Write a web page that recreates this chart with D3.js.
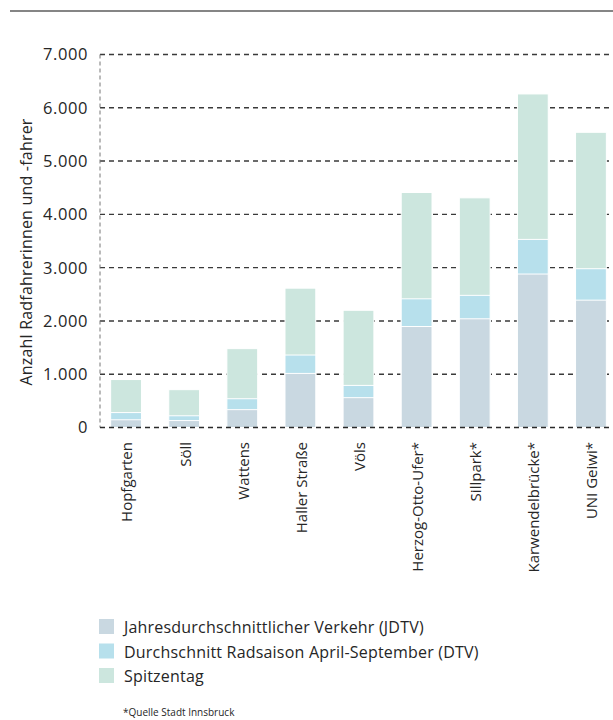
<!DOCTYPE html>
<html>
<head>
<meta charset="utf-8">
<script src="https://cdn.jsdelivr.net/npm/d3@7"></script>
<style>
  body { margin: 0; background: #fff; }
  text { font-family: "Open Sans", sans-serif; font-weight: 400; fill: #262626; }
</style>
</head>
<body>
<div id="chart"></div>
<script>
// Zählstellen
const categories = ["Hopfgarten", "Söll", "Wattens", "Haller Straße", "Völs",
  "Herzog-Otto-Ufer*", "Sillpark*", "Karwendelbrücke*", "UNI Geiwi*"]

// Werte je Serie (Radfahrer pro Tag)
const jdtv = [145, 130, 335, 1015, 560, 1895, 2040, 2880, 2390]
const dtv = [280, 220, 540, 1360, 790, 2415, 2480, 3530, 2980]
const spitzentag = [900, 710, 1480, 2615, 2200, 4410, 4310, 6260, 5540]

const seriesNames = ["Jahresdurchschnittlicher Verkehr (JDTV)",
  "Durchschnitt Radsaison April-September (DTV)", "Spitzentag"]
const seriesColors = ["#c9d8e1", "#b7e0ec", "#cce6de"]
const yTicks = [0, 1000, 2000, 3000, 4000, 5000, 6000, 7000]

async function drawChart() {
    const WIDTH = 613
    const HEIGHT = 720

    const svg = d3.select("#chart")
        .append("svg")
        .attr("width", WIDTH)
        .attr("height", HEIGHT)

    // top rule
    svg.append("line")
        .attr("x1", 10).attr("x2", WIDTH)
        .attr("y1", 11).attr("y2", 11)
        .style("stroke", "#858585")
        .style("stroke-width", 2)

    const x = d3.scaleBand()
        .domain(categories)
        .range([97, 620])
        .paddingInner(0.47)
        .paddingOuter(0.235)

    const y = d3.scaleLinear()
        .domain([0, 7000])
        .range([427.5, 54.5])

    const fmt = v => d3.format(",")(v).replace(/,/g, ".")

    // gridlines
    svg.append("g")
        .selectAll("line")
        .data(yTicks.filter(d => d > 0))
        .enter()
        .append("line")
        .attr("x1", 100).attr("x2", WIDTH)
        .attr("y1", d => y(d)).attr("y2", d => y(d))
        .style("stroke", "#3a3a3a")
        .style("stroke-width", 1.4)
        .style("stroke-dasharray", "5,4")

    // left axis line
    svg.append("line")
        .attr("x1", 100).attr("x2", 100)
        .attr("y1", y(7000)).attr("y2", y(0))
        .style("stroke", "#777")
        .style("stroke-width", 1)
        .style("stroke-dasharray", "4,3")

    // y tick labels
    svg.append("g")
        .selectAll("text")
        .data(yTicks)
        .enter()
        .append("text")
        .attr("x", 88)
        .attr("y", d => y(d))
        .attr("dy", "0.36em")
        .attr("text-anchor", "end")
        .style("font-size", "16.5px")
        .style("letter-spacing", "0.6px")
        .text(fmt)

    // y axis title
    svg.append("text")
        .attr("transform", "translate(32,252) rotate(-90)")
        .attr("text-anchor", "middle")
        .style("font-size", "16px")
        .style("letter-spacing", "0.2px")
        .text("Anzahl Radfahrerinnen und -fahrer")

    // bars: drawn from zero, largest behind
    const layers = [spitzentag, dtv, jdtv]
    const layerColors = [seriesColors[2], seriesColors[1], seriesColors[0]]
    layers.forEach((vals, i) => {
        svg.append("g")
            .selectAll("rect")
            .data(vals)
            .enter()
            .append("rect")
            .attr("x", (d, j) => x(categories[j]))
            .attr("width", x.bandwidth())
            .attr("y", d => y(d))
            .attr("height", d => y(0) - y(d))
            .style("fill", layerColors[i])
            .style("stroke", "#fff")
            .style("stroke-width", 1)
    })

    // zero line
    svg.append("line")
        .attr("x1", 100).attr("x2", WIDTH)
        .attr("y1", y(0)).attr("y2", y(0))
        .style("stroke", "#2a2a2a")
        .style("stroke-width", 1.6)
        .style("stroke-dasharray", "5,4")

    // x labels
    svg.append("g")
        .selectAll("text")
        .data(categories)
        .enter()
        .append("text")
        .attr("transform", d => `translate(${x(d) + x.bandwidth() / 2 + 1},442) rotate(-90)`)
        .attr("dy", "0.36em")
        .attr("text-anchor", "end")
        .style("font-size", "15px")
        .text(d => d)

    // legend
    const legend = svg.append("g")
        .selectAll("g")
        .data(seriesNames)
        .enter()
        .append("g")
        .attr("transform", (d, i) => `translate(99,${619 + i * 24.5})`)
    legend.append("rect")
        .attr("width", 15).attr("height", 15)
        .style("fill", (d, i) => seriesColors[i])
    legend.append("text")
        .attr("x", 25).attr("y", 14)
        .style("font-size", "16px")
        .style("letter-spacing", "0.2px")
        .text(d => d)

    svg.append("text")
        .attr("x", 123).attr("y", 716)
        .style("font-size", "10px")
        .text("*Quelle Stadt Innsbruck")
}

drawChart()
</script>
</body>
</html>
